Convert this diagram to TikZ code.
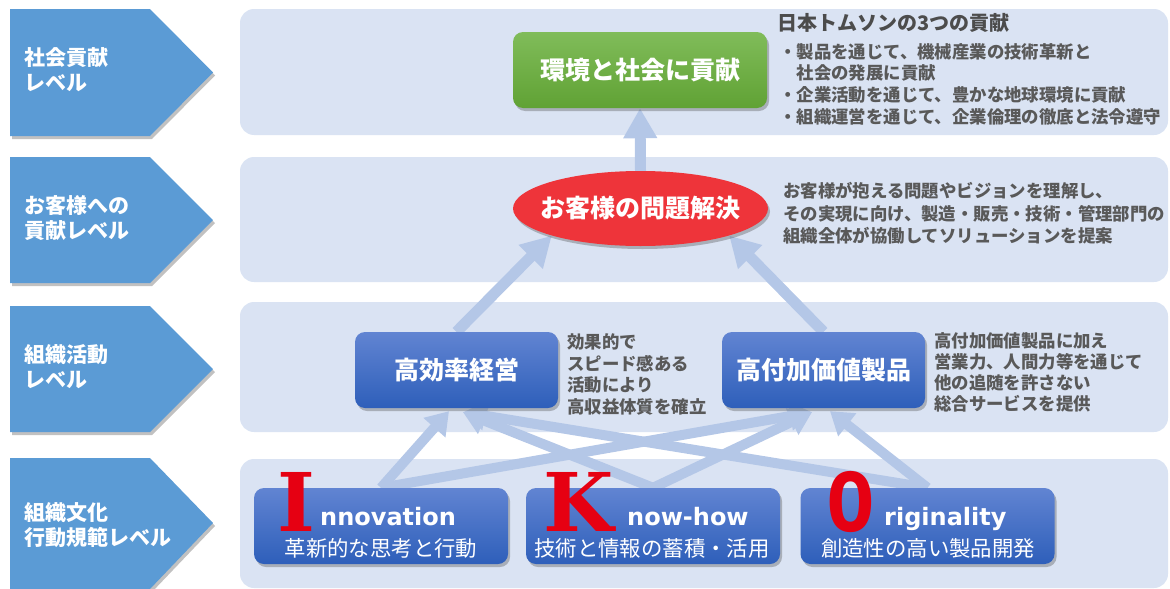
\documentclass[tikz,border=0pt]{standalone}
\usepackage{fontspec}
\usetikzlibrary{shapes.geometric,arrows.meta,shadows}
\newfontfamily\jp{Noto Sans CJK JP}
\newfontfamily\latsans{DejaVu Sans}
\newfontfamily\latserif{DejaVu Serif}
\newfontfamily\latmono{DejaVu Sans Mono}
\definecolor{chev}{RGB}{91,155,213}
\definecolor{bandc}{RGB}{218,227,243}
\definecolor{arrc}{RGB}{180,199,231}
\definecolor{txtgray}{RGB}{89,89,89}
\definecolor{redl}{RGB}{230,0,18}
\definecolor{ellred}{RGB}{238,52,58}
\definecolor{bluetop}{RGB}{97,132,210}
\definecolor{bluebot}{RGB}{46,95,186}
\definecolor{greentop}{RGB}{128,188,90}
\definecolor{greenbot}{RGB}{96,162,52}
\pgfdeclarelayer{back}
\pgfdeclarelayer{mid}
\pgfsetlayers{back,mid,main}
\begin{document}
\begin{tikzpicture}[x=1pt,y=-1pt,
  shad/.style={drop shadow={shadow xshift=2pt,shadow yshift=-3pt,opacity=.35,fill=black!70}},
  chevtext/.style={text=white,font=\jp\bfseries\fontsize{21}{25}\selectfont,align=left,anchor=west,inner sep=0pt},
  bandfill/.style={fill=bandc,rounded corners=14pt},
  chevfill/.style={fill=chev,shad},
  bluebox/.style={rectangle,rounded corners=10pt,minimum height=76pt,inner sep=0pt,top color=bluetop,bottom color=bluebot,draw=none,shad,text=white},
  midbox/.style={bluebox,minimum width=203pt,font=\jp\bfseries\fontsize{25}{30}\selectfont},
  lowbox/.style={bluebox,minimum width=254pt},
  desc/.style={text=txtgray,font=\jp\bfseries\fontsize{17.4}{21.7}\selectfont,align=left,anchor=west,inner sep=0pt},
  bigarrow/.style={draw=arrc,line width=11pt,-{Triangle[width=32pt,length=30pt]}},
  smallarrow/.style={draw=arrc,line width=10pt,-{Triangle[width=28pt,length=22pt]}},
  bigletter/.style={text=redl,inner sep=0pt,anchor=base west,text depth=0pt,font=\latserif\bfseries\fontsize{81}{81}\selectfont},
  word/.style={text=white,inner sep=0pt,anchor=base west,text depth=0pt,font=\latsans\bfseries\fontsize{24}{28}\selectfont},
  sub/.style={text=white,inner sep=0pt,font=\jp\fontsize{21.4}{25}\selectfont}]
\useasboundingbox (0,0) rectangle (1170,589);

% bands
\begin{pgfonlayer}{back}
\fill[bandfill] (240,9) rectangle (1168,135);
\fill[bandfill] (240,157) rectangle (1168,282);
\fill[bandfill] (240,302) rectangle (1168,432);
\fill[bandfill] (240,459) rectangle (1168,588);
\end{pgfonlayer}

% chevrons
\fill[chevfill] (10,9) -- (150,9) -- (213,72.5) -- (150,136) -- (10,136) -- cycle;
\fill[chevfill] (10,157) -- (150,157) -- (213,220) -- (150,283) -- (10,283) -- cycle;
\fill[chevfill] (10,306) -- (150,306) -- (213,369) -- (150,432) -- (10,432) -- cycle;
\fill[chevfill] (10,458) -- (150,458) -- (213,523) -- (150,589) -- (10,589) -- cycle;
\node[chevtext] (c1) at (24,70) {社会貢献\\レベル};
\node[chevtext] (c2) at (24,218) {お客様への\\貢献レベル};
\node[chevtext] (c3) at (24,367) {組織活動\\レベル};
\node[chevtext] (c4) at (24,525) {組織文化\\行動規範レベル};

% top level
\node[rectangle,rounded corners=10pt,minimum width=254pt,minimum height=76pt,inner sep=0pt,
      top color=greentop,bottom color=greenbot,shad,text=white,
      font=\jp\bfseries\fontsize{25}{30}\selectfont] (green) at (640,70) {環境と社会に貢献};
\node[text=txtgray!85!black,font=\jp\bfseries\fontsize{20}{24}\selectfont,anchor=west,inner sep=0pt] (title) at (777,23) {日本トムソンの3つの貢献};
\node[desc] (bul) at (779,84) {・製品を通じて、機械産業の技術革新と\\\hspace*{1em}社会の発展に貢献\\・企業活動を通じて、豊かな地球環境に貢献\\・組織運営を通じて、企業倫理の徹底と法令遵守};

% customer level
\node[ellipse,minimum width=255pt,minimum height=75pt,inner xsep=-12pt,inner ysep=0pt,fill=ellred,shad,text=white,
      font=\jp\bfseries\fontsize{25}{30}\selectfont] (ell) at (640.5,208.5) {お客様の問題解決};
\node[desc,font=\jp\bfseries\fontsize{17.4}{22.5}\selectfont] (cdesc) at (783,213.5) {お客様が抱える問題やビジョンを理解し、\\その実現に向け、製造・販売・技術・管理部門の\\組織全体が協働してソリューションを提案};

% organisation level
\node[midbox] (hk) at (456.5,370) {高効率経営};
\node[midbox] (hv) at (823.5,370) {高付加価値製品};
\node[desc] (hkdesc) at (567,374.5) {効果的で\\スピード感ある\\活動により\\高収益体質を確立};
\node[desc,font=\jp\bfseries\fontsize{17.4}{21}\selectfont] (hvdesc) at (934,372) {高付加価値製品に加え\\営業力、人間力等を通じて\\他の追随を許さない\\総合サービスを提供};

% culture level
\node[lowbox] (inn) at (381,526) {};
\node[lowbox] (kn) at (653,526) {};
\node[lowbox] (orig) at (927.5,526) {};
\node[bigletter] (li) at (277,531) {I};
\node[word] (wi) at (320,525) {nnovation};
\node[sub] (si) at (381,548) {革新的な思考と行動};
\node[bigletter] (lk) at (543,531) {K};
\node[word] (wk) at (627,525) {now-how};
\node[sub] (sk) at (652,548) {技術と情報の蓄積・活用};
\node[bigletter,font=\latmono\bfseries\fontsize{81}{81}\selectfont] (lo) at (826,531) {O};
\node[word] (wo) at (884,525) {riginality};
\node[sub] (so) at (928,548) {創造性の高い製品開発};

% arrows
\begin{pgfonlayer}{mid}
\draw[bigarrow] (ell.north) -- (green.south);
\draw[bigarrow] (hk.north) -- (ell.197);
\draw[bigarrow] (hv.north) -- (ell.343);
\draw[smallarrow] (inn.north) -- ([xshift=-7.5pt,yshift=-3pt]hk.south);
\draw[smallarrow] (kn.north) -- ([xshift=6.5pt,yshift=-4pt]hk.south);
\draw[smallarrow] (orig.north) -- ([xshift=6.5pt,yshift=-4pt]hk.south);
\draw[smallarrow] (inn.north) -- ([xshift=-11.5pt,yshift=-4pt]hv.south);
\draw[smallarrow] (kn.north) -- ([xshift=-11.5pt,yshift=-4pt]hv.south);
\draw[smallarrow] (orig.north) -- ([xshift=6.5pt,yshift=-3pt]hv.south);
\end{pgfonlayer}
\end{tikzpicture}
\end{document}
